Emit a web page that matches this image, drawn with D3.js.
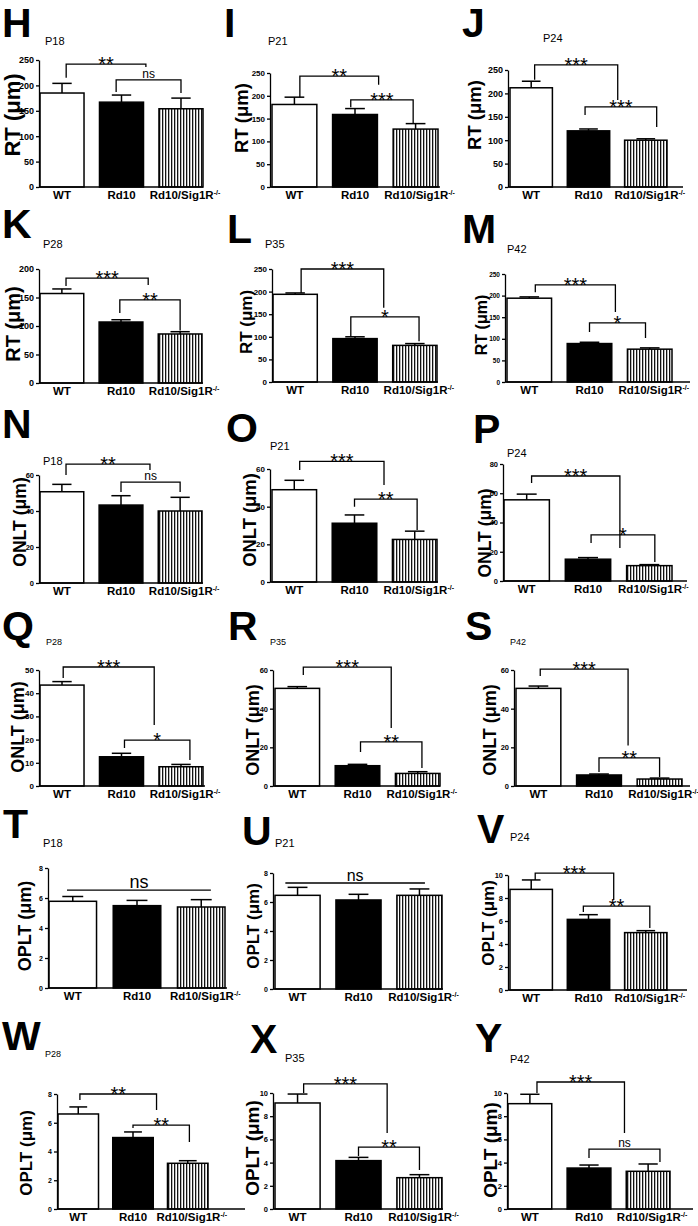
<!DOCTYPE html>
<html><head><meta charset="utf-8">
<script src="https://cdn.jsdelivr.net/npm/d3@7"></script>
<style>body{margin:0;background:#fff}</style></head>
<body>
<svg id="c" width="698" height="1226"></svg>
<script>
// ---------------- DATA ----------------
const groups = ["WT", "Rd10", "Rd10/Sig1R"];
const panelLetters = ["H","I","J","K","L","M","N","O","P","Q","R","S","T","U","V","W","X","Y"];
const panelAges = ["P18","P21","P24","P28","P35","P42","P18","P21","P24","P28","P35","P42","P18","P21","P24","P28","P35","P42"];
const panelMeasure = ["RT","RT","RT","RT","RT","RT","ONLT","ONLT","ONLT","ONLT","ONLT","ONLT","OPLT","OPLT","OPLT","OPLT","OPLT","OPLT"];
const yMax  = [250,250,250,200,250,250,60,60,80,50,60,60,8,8,10,8,10,10];
const yStep = [50,50,50,50,50,50,20,20,20,10,20,20,2,2,2,2,2,2];
const means = [
  [185,167,154],[181,159,127],[212,120,100],
  [157,107,86],[194,96,81],[194,89,76],
  [50.7,43.3,40],[49,31.2,22.6],[55.5,14.9,10.5],
  [43.5,12.6,8.3],[50.5,10.5,6.5],[50.5,5.7,3.6],
  [5.78,5.49,5.4],[6.46,6.14,6.46],[8.75,6.14,4.99],
  [6.61,4.97,3.18],[9.14,4.17,2.7],[9.08,3.53,3.25]
];
const sems = [
  [19,14,21],[16,13,12],[14,4,3],
  [8,4,4],[3,4,4],[3,3,3],
  [4.1,5.2,7.6],[5,4.4,4.4],[3.9,1.1,0.7],
  [1.5,1.5,1.0],[0.9,0.7,0.9],[1.2,0.5,0.5],
  [0.32,0.35,0.49],[0.55,0.39,0.44],[0.82,0.41,0.17],
  [0.49,0.39,0.18],[0.77,0.28,0.26],[0.81,0.26,0.63]
];
// significance brackets: [from group pos, to group pos, bar y, left leg end y, right leg end y, label] (y in data units)
const brackets = [
  [[0.07,1.41,242,215,236,"**"],[0.91,2.0,211,187,185,"ns"]],
  [[0.09,1.39,243,197,224,"**"],[0.93,1.96,191,175,140,"***"]],
  [[0.06,1.51,261,229,186,"***"],[0.94,2.19,171,154,128,"***"]],
  [[0.07,1.46,184,170,172,"***"],[0.98,2.0,146,123,92,"**"]],
  [[0.1,1.48,250,197,164,"***"],[0.93,2.07,144,100,90,"*"]],
  [[0.1,1.43,225,208,162,"***"],[1.0,1.93,137,116,102,"*"]],
  [[0.07,1.49,66,60,62.8,"**"],[1.0,2.0,56,50.5,50.5,"ns"]],
  [[0.09,1.49,64,59.5,51.5,"***"],[1.0,2.04,44,40,27.6,"**"]],
  [[0.08,1.52,71.8,67,22.6,"***"],[1.05,2.09,31.5,26,13,"*"]],
  [[0.02,1.55,51.3,46.6,26.3,"***"],[1.05,2.15,19.8,16.4,11.2,"*"]],
  [[0.1,1.56,61.5,57.4,30,"***"],[1.05,2.07,22.8,17.6,9.3,"**"]],
  [[0.03,1.48,60.5,56.9,21,"***"],[1.0,2.0,14.5,7.2,4.7,"**"]],
  [[-0.09,2.15,6.53,6.53,6.53,"ns"]],
  [[-0.2,2.09,7.31,7.31,7.31,"ns"]],
  [[0.07,1.44,10.17,9.57,7.83,"***"],[0.91,2.07,7.3,6.78,5.39,"**"]],
  [[0.03,1.43,8.0,7.58,6.89,"**"],[1.0,2.03,5.84,5.63,4.66,"**"]],
  [[0.1,1.47,10.78,10.0,6.55,"***"],[1.0,2.0,5.34,4.57,3.36,"**"]],
  [[0.12,1.6,10.95,10.0,6.55,"***"],[1.0,2.2,5.17,4.4,4.05,"ns"]]
];

// ---------------- LAYOUT (pixels) ----------------
// ax: y-axis x, ar: x-axis right end, yt: top tick px, yb: zero px, b0/b1: bar span,
// l: letter pos, t: title pos + size, yl: y-label pos + size, ns: ns font size, tf: tick font size
const layout = [
  {ax:39,ar:203,yt:60,yb:187,b0:40,b1:203,l:[2,37],t:[45,45,11],yl:[20,115,22],ns:12,tf:9},
  {ax:270,ar:440,yt:73,yb:187,b0:272,b1:438,l:[224,37],t:[268,45,11],yl:[248,118,18.5],ns:12,tf:8},
  {ax:508,ar:683,yt:70,yb:187,b0:510,b1:667,l:[462,37],t:[543,42,11],yl:[481,115,18.5],ns:12,tf:9},
  {ax:39,ar:203,yt:269,yb:383,b0:40,b1:202,l:[2,238],t:[43,248,11],yl:[19.5,324,20],ns:12,tf:9},
  {ax:272,ar:438,yt:269,yb:382,b0:273,b1:437,l:[227,243],t:[265,248,11],yl:[252,322,17],ns:12,tf:8},
  {ax:505,ar:690,yt:274,yb:382,b0:507,b1:672,l:[462,243],t:[507,253,11],yl:[487,325,16],ns:12,tf:6.5},
  {ax:39,ar:203,yt:475,yb:583,b0:40,b1:202,l:[2,438],t:[43,465,11],yl:[26,522,17.6],ns:12,tf:7.5},
  {ax:270,ar:438,yt:469,yb:582,b0:272,b1:437,l:[226,442],t:[270,450,11],yl:[256,520,18.4],ns:12,tf:8},
  {ax:503,ar:687,yt:464,yb:581,b0:504,b1:672,l:[473,443],t:[507,457,11],yl:[491,533,17.5],ns:12,tf:7.5},
  {ax:39,ar:205,yt:670,yb:786,b0:40,b1:203,l:[2,640],t:[46,645,9],yl:[24,727,18],ns:12,tf:8},
  {ax:273,ar:440,yt:670,yb:786,b0:275,b1:440,l:[228,640],t:[270,645,9],yl:[259,730,18],ns:12,tf:7.5},
  {ax:514,ar:690,yt:670,yb:786,b0:516,b1:682,l:[465,640],t:[510,645,9],yl:[496,730,18],ns:12,tf:7.5},
  {ax:48,ar:227,yt:868,yb:988,b0:49,b1:225,l:[3,838],t:[43,847,11],yl:[31,926,18],ns:18,tf:7},
  {ax:273,ar:443,yt:873,yb:989,b0:275,b1:442,l:[242,845],t:[275,847,11],yl:[259,926,17],ns:16,tf:7},
  {ax:508,ar:687,yt:875,yb:990,b0:510,b1:667,l:[477,843],t:[510,841,11],yl:[494,923,17],ns:12,tf:7.5},
  {ax:57,ar:245,yt:1094,yb:1209,b0:58,b1:208,l:[2,1050],t:[45,1057,9],yl:[32,1153,17],ns:12,tf:7},
  {ax:273,ar:443,yt:1093,yb:1209,b0:275,b1:442,l:[250,1053],t:[285,1062,11],yl:[259,1148,19],ns:12,tf:7.5},
  {ax:507,ar:693,yt:1093,yb:1209,b0:508,b1:670,l:[475,1052],t:[510,1063,11],yl:[497,1150,19],ns:12,tf:7.5}
];

// ---------------- DRAW ----------------
const FONT = "'Liberation Sans', Arial, Helvetica, sans-serif";
const svg = d3.select("#c").style("font-family", FONT);
svg.append("rect").attr("width",698).attr("height",1226).attr("fill","#fff");

const defs = svg.append("defs");
const pat = defs.append("pattern").attr("id","hatch").attr("patternUnits","userSpaceOnUse")
  .attr("width",3).attr("height",10);
pat.append("rect").attr("width",3).attr("height",10).attr("fill","#fff");
pat.append("rect").attr("width",1.3).attr("height",10).attr("fill","#111");

const fills = ["#fff", "#000", "url(#hatch)"];

panelLetters.forEach((letter, i) => {
  const L = layout[i];
  const g = svg.append("g");

  const x = d3.scaleBand().domain(groups).range([L.b0, L.b1]).paddingInner(0.26).paddingOuter(0);
  const y = d3.scaleLinear().domain([0, yMax[i]]).range([L.yb, L.yt]);
  const bw = x.bandwidth();
  const pos = f => x(groups[0]) + bw/2 + f * x.step();

  // letter & title
  g.append("text").attr("x", L.l[0]).attr("y", L.l[1]).text(letter)
    .attr("font-size", 41).attr("font-weight", "bold");
  g.append("text").attr("x", L.t[0]).attr("y", L.t[1]).text(panelAges[i])
    .attr("font-size", L.t[2]);

  // y label
  g.append("text").attr("transform", `translate(${L.yl[0]},${L.yl[1]}) rotate(-90)`)
    .attr("text-anchor","middle").attr("font-weight","bold").attr("font-size", L.yl[2])
    .text(panelMeasure[i] + " (\u03BCm)");

  const rows = groups.map((gr, j) => ({gr, j, m: means[i][j], s: sems[i][j]}));

  // error bars
  const eb = g.append("g").attr("stroke","#000").attr("stroke-width",1.5);
  eb.selectAll("line.v").data(rows).join("line")
    .attr("x1", d => x(d.gr) + bw/2).attr("x2", d => x(d.gr) + bw/2)
    .attr("y1", d => y(d.m)).attr("y2", d => y(d.m + d.s));
  eb.selectAll("line.c").data(rows).join("line").attr("class","c")
    .attr("x1", d => x(d.gr) + bw/2 - bw*0.22).attr("x2", d => x(d.gr) + bw/2 + bw*0.22)
    .attr("y1", d => y(d.m + d.s)).attr("y2", d => y(d.m + d.s));

  // bars
  g.append("g").selectAll("rect").data(rows).join("rect")
    .attr("x", d => x(d.gr)).attr("width", bw)
    .attr("y", d => y(d.m)).attr("height", d => y(0) - y(d.m))
    .attr("fill", d => fills[d.j]).attr("stroke","#000").attr("stroke-width",1.5);

  // y axis
  const ticks = d3.range(0, yMax[i] + yStep[i]/2, yStep[i]);
  const ya = g.append("g").attr("transform", `translate(${L.ax},0)`)
    .call(d3.axisLeft(y).tickValues(ticks).tickSize(3).tickSizeOuter(0).tickPadding(2));
  ya.selectAll("path,line").attr("stroke","#000").attr("stroke-width",1.3);
  ya.selectAll("text").attr("font-family", FONT).attr("font-weight","bold").attr("font-size",L.tf).attr("fill","#000");

  // x axis
  g.append("line").attr("x1", L.ax).attr("x2", L.ar).attr("y1", L.yb).attr("y2", L.yb)
    .attr("stroke","#000").attr("stroke-width",1.5);
  const xa = g.append("g").attr("transform", `translate(0,${L.yb})`)
    .call(d3.axisBottom(x).tickSize(0).tickPadding(4));
  xa.select(".domain").remove();
  xa.selectAll("text").attr("font-family", FONT).attr("font-weight","bold").attr("font-size",11.5).attr("fill","#000")
    .each(function(d){
      if (d === "Rd10/Sig1R") {
        d3.select(this).attr("dx", 4);
        d3.select(this).append("tspan").attr("font-size",7).attr("dy",-4).text("-/-");
      }
    });

  // brackets
  brackets[i].forEach(b => {
    const [a, c, yy, ya1, yb1, lab] = b;
    const x1 = pos(a), x2 = pos(c), yp = y(yy);
    g.append("path").attr("fill","none").attr("stroke","#000").attr("stroke-width",1.3)
      .attr("d", `M${x1},${y(ya1)}V${yp}H${x2}V${y(yb1)}`);
    const isNs = lab === "ns";
    const fs = isNs ? L.ns : 20;
    g.append("text").attr("x", (x1 + x2)/2).attr("y", isNs ? yp - 2 : yp + 7)
      .attr("text-anchor","middle").attr("font-size", fs).attr("fill","#000").text(lab);
  });
});
</script>
</body></html>
